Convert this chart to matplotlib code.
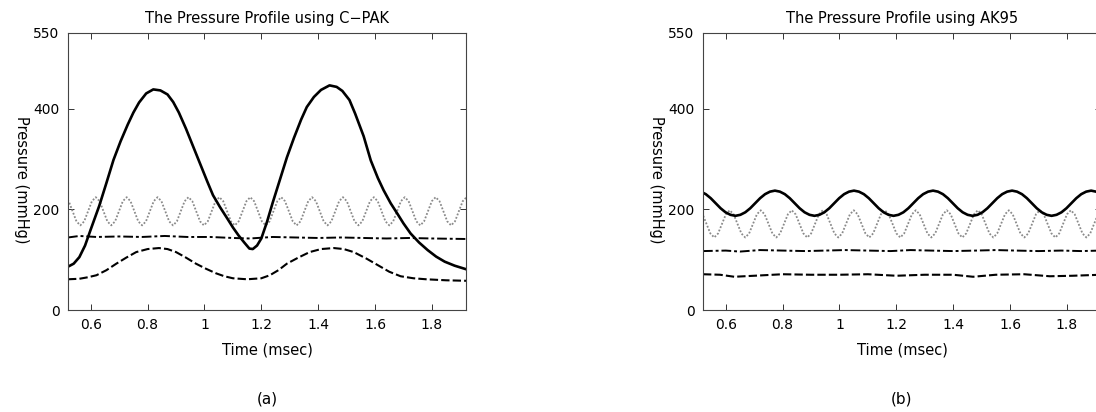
import numpy as np
from matplotlib import pyplot as plt

# %%
# panel (a): C-PAK
a_solid_t = [0.52, 0.54, 0.56, 0.58, 0.60, 0.63, 0.655, 0.68, 0.705, 0.73, 0.75,
             0.77, 0.795, 0.82, 0.845, 0.87, 0.89, 0.91, 0.935, 0.96, 0.985, 1.01,
             1.03, 1.055, 1.08, 1.10, 1.12, 1.14, 1.158, 1.17, 1.185, 1.20, 1.22,
             1.24, 1.265, 1.29, 1.315, 1.34, 1.36, 1.385, 1.41, 1.44, 1.465, 1.485,
             1.51, 1.53, 1.56, 1.585, 1.61, 1.63, 1.655, 1.68, 1.70, 1.725, 1.755,
             1.785, 1.815, 1.845, 1.88, 1.92]
a_solid_p = [86, 92, 105, 128, 160, 207, 252, 298, 335, 368, 392,
             412, 430, 438, 436, 428, 413, 392, 360, 325, 290, 255,
             228, 204, 182, 164, 148, 134, 122, 121, 128, 142, 175,
             213, 258, 303, 342, 378, 403, 423, 437, 446, 443, 435,
             417, 390, 345, 297, 262, 238, 212, 190, 172, 152, 134,
             119, 106, 96, 88, 81]

a_dash_t = [0.52, 0.56, 0.59, 0.62, 0.655, 0.69, 0.725, 0.76, 0.80, 0.84, 0.87,
            0.90, 0.935, 0.97, 1.005, 1.04, 1.07, 1.10, 1.15, 1.20, 1.23, 1.26,
            1.29, 1.33, 1.37, 1.41, 1.455, 1.49, 1.525, 1.57, 1.61, 1.65, 1.69,
            1.735, 1.78, 1.85, 1.92]
a_dash_p = [61, 62, 65, 69, 79, 92, 104, 115, 121, 123, 121,
            115, 104, 92, 82, 73, 67, 63, 61, 63, 69, 79,
            92, 104, 115, 121, 123, 121, 115, 102, 89, 76, 67,
            63, 61, 59, 58]

a_dashdot_t = [0.52, 0.56, 0.62, 0.70, 0.78, 0.86, 0.94, 1.02, 1.10, 1.16, 1.24,
               1.32, 1.40, 1.48, 1.56, 1.64, 1.72, 1.80, 1.92]
a_dashdot_p = [144, 147, 145, 146, 145, 147, 145, 145, 143, 142, 145,
               144, 143, 144, 143, 142, 143, 142, 141]

# dotted trace, sampled every 1/8 cycle from 0.509 to 1.922 msec
a_dot_p = [224, 216, 196, 176, 168, 176, 196, 216,
           224, 216, 196, 176, 168, 176, 196, 216,
           224, 216, 196, 176, 168, 176, 196, 216,
           224, 216, 196, 176, 168, 176, 196, 216,
           224, 216, 196, 176, 168, 176, 196, 216,
           224, 216, 196, 176, 168, 176, 196, 216,
           224, 216, 196, 176, 168, 176, 196, 216,
           224, 216, 196, 176, 168, 176, 196, 216,
           224, 216, 196, 176, 168, 176, 196, 216,
           224, 216, 196, 176, 168, 176, 196, 216,
           224, 216, 196, 176, 168, 176, 196, 216,
           224, 216, 196, 176, 168, 176, 196, 216,
           224, 216, 196, 176, 168, 176, 196, 216,
           224]
a_dot_t = np.linspace(0.509, 1.922, len(a_dot_p))

# %%
# panel (b): AK95
# solid trace, sampled every 1/16 cycle from 0.495 to 1.920 msec
b_solid_p = [237, 235, 230, 222, 212, 202, 194, 189, 187, 189, 194, 202, 212, 222, 230, 235,
             237, 235, 230, 222, 212, 202, 194, 189, 187, 189, 194, 202, 212, 222, 230, 235,
             237, 235, 230, 222, 212, 202, 194, 189, 187, 189, 194, 202, 212, 222, 230, 235,
             237, 235, 230, 222, 212, 202, 194, 189, 187, 189, 194, 202, 212, 222, 230, 235,
             237, 235, 230, 222, 212, 202, 194, 189, 187, 189, 194, 202, 212, 222, 230, 235,
             237, 235, 230]
b_solid_t = np.linspace(0.495, 1.920, len(b_solid_p))

# dotted trace, sampled every 1/8 cycle from 0.505 to 1.923 msec
b_dot_p = [198, 190, 171, 152, 144, 152, 171, 190,
           198, 190, 171, 152, 144, 152, 171, 190,
           198, 190, 171, 152, 144, 152, 171, 190,
           198, 190, 171, 152, 144, 152, 171, 190,
           198, 190, 171, 152, 144, 152, 171, 190,
           198, 190, 171, 152, 144, 152, 171, 190,
           198, 190, 171, 152, 144, 152, 171, 190,
           198, 190, 171, 152, 144, 152, 171, 190,
           198, 190, 171, 152, 144, 152, 171, 190,
           198, 190, 171, 152, 144, 152, 171, 190,
           198, 190, 171, 152, 144, 152, 171, 190,
           198, 190, 171, 152, 144, 152, 171, 190,
           198, 190, 171, 152, 144, 152, 171, 190,
           198]
b_dot_t = np.linspace(0.505, 1.923, len(b_dot_p))

b_dashdot_t = [0.52, 0.60, 0.65, 0.72, 0.80, 0.88, 0.95, 1.02, 1.10, 1.18, 1.25,
               1.32, 1.40, 1.48, 1.55, 1.62, 1.70, 1.78, 1.85, 1.92]
b_dashdot_p = [117, 118, 116, 119, 118, 117, 118, 119, 118, 117, 119,
               118, 117, 118, 119, 118, 117, 118, 117, 118]

b_dash_t = [0.52, 0.58, 0.63, 0.70, 0.80, 0.90, 1.00, 1.10, 1.20, 1.30, 1.40,
            1.47, 1.55, 1.65, 1.74, 1.82, 1.92]
b_dash_p = [71, 70, 66, 68, 71, 70, 70, 71, 68, 70, 70,
            66, 70, 71, 67, 68, 70]

titles = ["The Pressure Profile using C\u2212PAK", "The Pressure Profile using AK95"]
panel_tags = ["(a)", "(b)"]
x_ticks = [0.6, 0.8, 1.0, 1.2, 1.4, 1.6, 1.8]
x_tick_labels = ["0.6", "0.8", "1", "1.2", "1.4", "1.6", "1.8"]
y_ticks = [0, 200, 400, 550]

# %%
plt.rcParams["font.family"] = "DejaVu Sans"
fig = plt.figure(figsize=(10.96, 4.12), dpi=100)

W, H = 1096.0, 412.0
ax_a = fig.add_axes([68 / W, (H - 310) / H, 398 / W, 277 / H])
ax_b = fig.add_axes([703 / W, (H - 310) / H, 398 / W, 277 / H])

dot_style = dict(color="#8a8a8a", linestyle=(0, (1, 1)), linewidth=1.3)
solid_style = dict(color="black", linestyle="-", linewidth=1.9)
dashdot_style = dict(color="black", linestyle=(0, (5, 1.5, 1.5, 1.5)), linewidth=1.4)
dash_style = dict(color="black", linestyle=(0, (4, 1.5)), linewidth=1.5)

ax_a.plot(a_dot_t, a_dot_p, **dot_style)
ax_a.plot(a_dashdot_t, a_dashdot_p, **dashdot_style)
ax_a.plot(a_dash_t, a_dash_p, **dash_style)
ax_a.plot(a_solid_t, a_solid_p, **solid_style)

ax_b.plot(b_dot_t, b_dot_p, **dot_style)
ax_b.plot(b_dashdot_t, b_dashdot_p, **dashdot_style)
ax_b.plot(b_dash_t, b_dash_p, **dash_style)
ax_b.plot(b_solid_t, b_solid_p, **solid_style)

for ax, title, tag in zip([ax_a, ax_b], titles, panel_tags):
    ax.set_xlim(0.52, 1.92)
    ax.set_ylim(0, 550)
    ax.set_xticks(x_ticks)
    ax.set_xticklabels(x_tick_labels)
    ax.set_yticks(y_ticks)
    ax.tick_params(direction="in", top=True, right=True, length=4, width=0.7,
                   labelsize=10, pad=6, color="#333333")
    for sp in ax.spines.values():
        sp.set_linewidth(0.8)
        sp.set_color("#444444")
    ax.set_title(title, fontsize=10.5, pad=7)
    ax.set_xlabel("Time (msec)", fontsize=10.5, labelpad=7)
    ax.set_ylabel("Pressure (mmHg)", fontsize=10.5, rotation=270)
    ax.yaxis.set_label_coords(-0.135, 0.47)
    ax.text(0.5, -0.32, tag, transform=ax.transAxes, ha="center", va="center",
            fontsize=11)

fig.savefig("out.png", dpi=100)
